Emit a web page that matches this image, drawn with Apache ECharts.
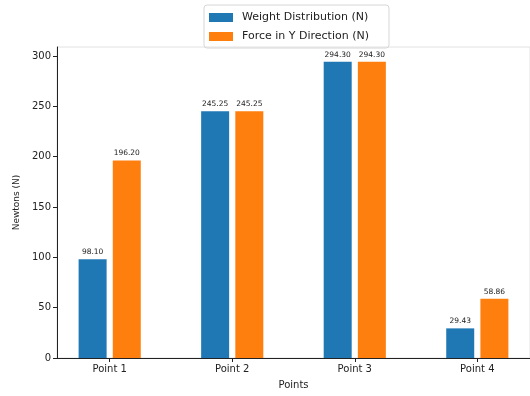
<!DOCTYPE html>
<html>
<head>
<meta charset="utf-8">
<script src="https://cdn.jsdelivr.net/npm/echarts@6/dist/echarts.min.js"></script>
<style>
  html, body { margin: 0; padding: 0; background: #fff; }
  #chart { width: 530px; height: 396px; }
</style>
</head>
<body>
<div id="chart"></div>
<script>
// Category names along the x axis
const categories = ['Point 1', 'Point 2', 'Point 3', 'Point 4'];
// Weight distribution per point (N)
const weightValues = [98.10, 245.25, 294.30, 29.43];
// Force in Y direction per point (N)
const forceValues = [196.20, 245.25, 294.30, 58.86];
// Y axis tick values
const yTicks = [0, 50, 100, 150, 200, 250, 300];

const FONT = 'DejaVu Sans';
const chart = echarts.init(document.getElementById('chart'));

const toPoints = vals => vals.map((v, i) => [i, v]);

const labelStyle = {
  show: true,
  position: 'top',
  distance: 3,
  fontFamily: FONT,
  fontSize: 7.5,
  color: '#222',
  formatter: p => p.value[1].toFixed(2)
};

chart.setOption({
  animation: false,
  textStyle: { fontFamily: FONT },
  grid: {
    left: 57, top: 47, width: 476, height: 311,
    show: true, borderColor: '#e2e2e2', borderWidth: 1
  },
  legend: {
    orient: 'vertical',
    left: 204, top: 5,
    padding: [7, 20, 6, 5],
    itemGap: 8,
    itemWidth: 24, itemHeight: 9,
    borderColor: '#d6d6d6', borderWidth: 1, borderRadius: 3,
    textStyle: { fontFamily: FONT, fontSize: 11, color: '#222', padding: [0, 0, 0, 4] },
    data: [
      { name: 'Weight Distribution (N)', icon: 'rect' },
      { name: 'Force in Y Direction (N)', icon: 'rect' }
    ]
  },
  xAxis: {
    type: 'value',
    min: -0.43, max: 3.43,
    name: 'Points',
    nameLocation: 'middle',
    nameGap: 22,
    nameTextStyle: { fontFamily: FONT, fontSize: 10, color: '#222' },
    splitLine: { show: false },
    axisLine: { onZero: false, lineStyle: { color: '#222', width: 1 } },
    axisTick: { show: true, customValues: [0, 1, 2, 3], length: 4, lineStyle: { color: '#222' } },
    axisLabel: {
      customValues: [0, 1, 2, 3],
      formatter: v => categories[Math.round(v)],
      fontFamily: FONT, fontSize: 10, color: '#222', margin: 6
    }
  },
  yAxis: {
    type: 'value',
    min: 0, max: 309,
    name: 'Newtons (N)',
    nameLocation: 'middle',
    nameGap: 36,
    nameTextStyle: { fontFamily: FONT, fontSize: 9, color: '#222' },
    splitLine: { show: false },
    axisLine: { show: true, onZero: false, lineStyle: { color: '#222', width: 1 } },
    axisTick: { show: true, customValues: yTicks, length: 4, lineStyle: { color: '#222' } },
    axisLabel: {
      customValues: yTicks,
      fontFamily: FONT, fontSize: 10, color: '#222', margin: 6
    }
  },
  series: [
    {
      name: 'Weight Distribution (N)',
      type: 'bar',
      data: toPoints(weightValues),
      barWidth: 28,
      barGap: '22%',
      itemStyle: { color: '#1f77b4' },
      label: labelStyle
    },
    {
      name: 'Force in Y Direction (N)',
      type: 'bar',
      data: toPoints(forceValues),
      barWidth: 28,
      barGap: '22%',
      itemStyle: { color: '#ff7f0e' },
      label: labelStyle
    }
  ]
});
</script>
</body>
</html>
